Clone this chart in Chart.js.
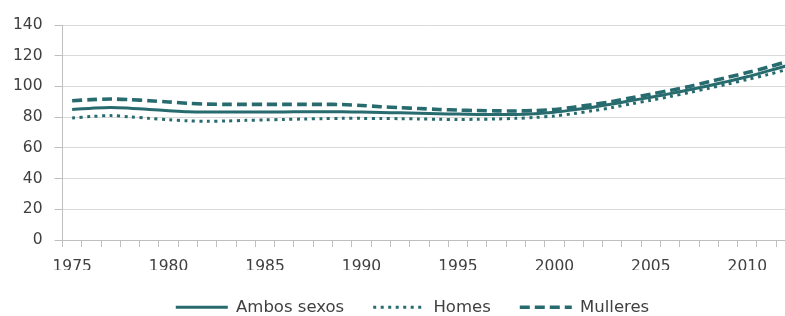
<!DOCTYPE html>
<html>
<head>
<meta charset="utf-8">
<script src="https://cdn.jsdelivr.net/npm/chart.js@4/dist/chart.umd.min.js"></script>
<style>
html,body{margin:0;padding:0;background:#fff;overflow:hidden;width:785px;height:316px;}
canvas{display:block;}
</style>
</head>
<body>
<canvas id="c" width="820" height="316"></canvas>
<script>
const years = [1975,1976,1977,1978,1979,1980,1981,1982,1983,1984,1985,1986,1987,1988,1989,1990,1991,1992,1993,1994,1995,1996,1997,1998,1999,2000,2001,2002,2003,2004,2005,2006,2007,2008,2009,2010,2011,2012];
const ambosSexos = [85.0,85.8,86.3,85.8,85.0,84.2,83.5,83.3,83.3,83.3,83.3,83.4,83.5,83.5,83.5,83.3,83.0,82.8,82.5,82.2,82.0,81.8,81.7,81.7,82.2,83.2,84.8,86.5,88.5,90.8,93.0,95.3,97.8,100.5,103.3,106.3,109.8,113.3];
const homes = [79.4,80.4,81.0,80.2,79.2,78.3,77.6,77.3,77.5,77.9,78.2,78.5,78.8,79.0,79.2,79.2,79.1,79.0,78.8,78.6,78.5,78.6,78.8,79.2,79.8,80.8,82.3,84.2,86.3,88.7,91.0,93.4,96.0,98.8,101.6,104.5,107.5,110.8];
const mulleres = [90.7,91.4,91.8,91.4,90.7,89.9,89.0,88.5,88.3,88.3,88.3,88.3,88.3,88.3,88.2,87.6,86.8,86.2,85.6,85.0,84.6,84.3,84.1,84.0,84.3,85.0,86.5,88.2,90.2,92.6,95.0,97.4,100.0,103.0,106.0,109.0,112.3,116.0];
const seriesNames = ['Ambos sexos','Homes','Mulleres'];
const yTicks = [0,20,40,60,80,100,120,140];

const teal = '#276B6F';
const axisGray = '#BFBFBF';
const gridGray = '#D9D9D9';
const textGray = '#404040';

new Chart(document.getElementById('c'), {
  type: 'line',
  data: {
    labels: years.map(String),
    datasets: [
      {label: seriesNames[0], data: ambosSexos, borderColor: teal, backgroundColor: teal, borderWidth: 3, pointRadius: 0, tension: 0.3, fill: false},
      {label: seriesNames[1], data: homes, borderColor: teal, backgroundColor: teal, borderWidth: 3, borderDash: [3, 4.5], pointRadius: 0, tension: 0.3, fill: false},
      {label: seriesNames[2], data: mulleres, borderColor: teal, backgroundColor: teal, borderWidth: 3.6, borderDash: [10, 5], pointRadius: 0, tension: 0.3, fill: false}
    ]
  },
  options: {
    responsive: false,
    animation: false,
    devicePixelRatio: 1,
    layout: {padding: {left: 5, right: 0, top: 25, bottom: 0}},
    plugins: {
      tooltip: {enabled: false},
      legend: {
        position: 'bottom',
        maxHeight: 46,
        labels: {
          usePointStyle: true,
          pointStyle: 'line',
          pointStyleWidth: 52,
          padding: 29,
          color: textGray,
          font: {family: 'DejaVu Sans', size: 16.5},
          generateLabels: (chart) => chart.data.datasets.map((ds, i) => ({
            text: ds.label,
            fillStyle: ds.borderColor,
            strokeStyle: ds.borderColor,
            fontColor: textGray,
            lineWidth: ds.borderWidth,
            lineDash: ds.borderDash || [],
            lineCap: 'butt',
            pointStyle: 'line',
            hidden: false,
            datasetIndex: i
          }))
        }
      }
    },
    scales: {
      x: {
        type: 'category',
        offset: true,
        afterFit: (s) => { s.height = 30; },
        grid: {display: true, drawOnChartArea: false, offset: true, drawTicks: true, tickLength: 7, color: axisGray, tickColor: axisGray, lineWidth: 1},
        border: {display: true, color: axisGray, width: 1},
        ticks: {
          autoSkip: false, maxRotation: 0, minRotation: 0, padding: 11,
          color: textGray, font: {family: 'DejaVu Sans', size: 15.5},
          callback: function(v, i) { const y = years[i]; return (y % 5 === 0) ? String(y) : ''; }
        }
      },
      y: {
        min: yTicks[0], max: yTicks[yTicks.length - 1],
        afterFit: (s) => { s.width = 57.5; },
        afterBuildTicks: (s) => { s.ticks = yTicks.map(v => ({value: v})); },
        grid: {color: gridGray, tickColor: axisGray, drawTicks: true, tickLength: 8, lineWidth: 1},
        border: {display: true, color: axisGray, width: 1},
        ticks: {stepSize: 20, padding: 12, color: textGray, font: {family: 'DejaVu Sans', size: 15.5}}
      },
      yRight: {
        position: 'right',
        display: true,
        afterFit: (s) => { s.width = 24.5; },
        grid: {display: false, drawTicks: false},
        border: {display: false},
        ticks: {display: false}
      }
    }
  }
});
</script>
</body>
</html>
